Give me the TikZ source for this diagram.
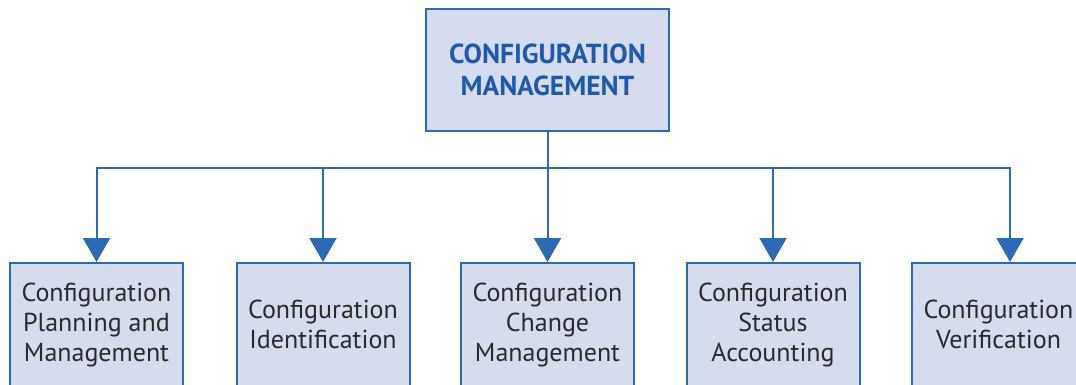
\documentclass[tikz,border=0pt]{standalone}
\usepackage{fontspec}
\setmainfont{PT Sans}
\usetikzlibrary{arrows.meta}
\definecolor{boxfill}{HTML}{D5DCEE}
\definecolor{boxline}{HTML}{2D6AB3}
\definecolor{toptext}{HTML}{1D5AAB}
\definecolor{subtext}{HTML}{2A2A2A}
\tikzset{
  topbox/.style={draw=boxline, fill=boxfill, line width=2pt, minimum width=243pt, minimum height=122pt,
    align=center, font=\fontsize{27.5}{32}\selectfont\bfseries, text=toptext, inner sep=0pt},
  subbox/.style={draw=boxline, fill=boxfill, line width=2pt, minimum width=173pt, minimum height=123pt,
    align=center, font=\fontsize{26}{30}\selectfont, text=subtext, inner sep=0pt},
  conn/.style={draw=boxline, line width=2pt, -{Triangle[width=27pt,length=24pt]}},
}
\begin{document}
\begin{tikzpicture}[x=1pt,y=-1pt]
\useasboundingbox (0,0) rectangle (1076,384);
\clip (0,0) rectangle (1076,384);
\node[topbox] (cm) at (547.5,70) {CONFIGURATION\\MANAGEMENT};
\node[subbox] (b1) at (96.5,324.5) {Configuration\\Planning and\\Management};
\node[subbox] (b2) at (323,324.5) {Configuration\\Identification};
\node[subbox] (b3) at (547.5,324.5) {Configuration\\Change\\Management};
\node[subbox] (b4) at (773,324.5) {Configuration\\Status\\Accounting};
\node[subbox] (b5) at (998.5,324.5) {Configuration\\Verification};
\coordinate (bus) at (547.5,168);
\draw[boxline, line width=2pt] (cm.south) -- (bus);
\draw[conn] (bus) -| (b1.north);
\draw[conn] (bus) -| (b2.north);
\draw[conn] (bus) -- (b3.north);
\draw[conn] (bus) -| (b4.north);
\draw[conn] (bus) -| ([xshift=11.5pt]b5.north);
\end{tikzpicture}
\end{document}
